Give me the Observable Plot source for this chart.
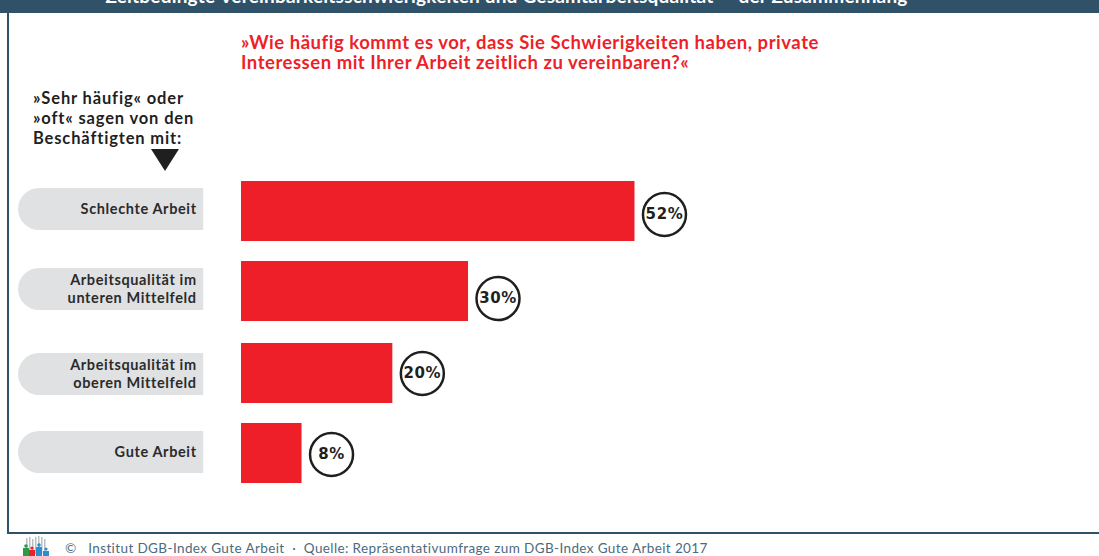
<!DOCTYPE html>
<html><head><meta charset="utf-8">
<script src="https://cdn.jsdelivr.net/npm/d3@7"></script>
<script src="https://cdn.jsdelivr.net/npm/@observablehq/plot@0.6"></script>
<style>
html,body{margin:0;padding:0;background:#fff;overflow:hidden}
#wrap{position:relative;width:1099px;height:556px;overflow:hidden;font-family:Lato,sans-serif}
#wrap svg{position:absolute;left:0;top:0}
#wrap svg text{letter-spacing:.62px}
.abs{position:absolute;white-space:pre}
</style></head><body><div id="wrap"></div>
<script>
const categories = ["Schlechte Arbeit","Arbeitsqualität im\nunteren Mittelfeld","Arbeitsqualität im\noberen Mittelfeld","Gute Arbeit"];
const values = [52,30,20,8];
const headerText = "Zeitbedingte Vereinbarkeitsschwierigkeiten und Gesamtarbeitsqualität — der Zusammenhang";
const questionLines = ["»Wie häufig kommt es vor, dass Sie Schwierigkeiten haben, private","Interessen mit Ihrer Arbeit zeitlich zu vereinbaren?«"];
const leadLines = ["»Sehr häufig« oder","»oft« sagen von den","Beschäftigten mit:"];
const footerText = "©   Institut DGB-Index Gute Arbeit  ·  Quelle: Repräsentativumfrage zum DGB-Index Gute Arbeit 2017";

const rows = categories.map((c,i)=>({c,v:values[i]}));
const barNudge = [-2,-2,0,0], pillNudge = [-4,-4,1,-1], circleNudge = [1,5,0,1];
const font = "Lato, sans-serif";
const pxPerUnit = 7.567;
const plot = Plot.plot({
  width:1099,height:556,margin:0,
  style:{background:"transparent",fontFamily:font},
  x:{domain:[-241/pxPerUnit,(1099-241)/pxPerUnit],range:[0,1099],axis:null},
  y:{domain:categories,range:[171,493.6],paddingInner:0.256,paddingOuter:0.128,axis:null},
  marks:[
    ...rows.map((r,i)=>Plot.barX([r],{x1:()=>-29.47,x2:()=>-15,y:"c",fill:"#e0e1e3",insetTop:9,insetBottom:9,rx:21,dy:pillNudge[i]})),
    ...rows.map((r,i)=>Plot.barX([r],{x1:()=>-20,x2:()=>-5,y:"c",fill:"#e0e1e3",insetTop:9,insetBottom:9,dy:pillNudge[i]})),
    ...rows.map((r,i)=>Plot.barX([r],{x1:()=>0,x2:"v",y:"c",fill:"#ee1f28",dy:barNudge[i]})),
    ...rows.map((r,i)=>Plot.text([r],{x:()=>-5,y:"c",text:"c",textAnchor:"end",dx:-7,dy:pillNudge[i]-1.5,lineHeight:1.3,fontSize:14.5,fontWeight:700,fill:"#2b2b2b",fontFamily:font})),
    ...rows.map((r,i)=>Plot.dot([r],{x:"v",y:"c",dx:29.5,dy:circleNudge[i],r:21.5,fill:"#fff",stroke:"#1f1f1f",strokeWidth:2.5})),
    ...rows.map((r,i)=>Plot.text([r],{x:"v",y:"c",dx:29.5,dy:circleNudge[i],text:d=>d.v+"%",fontSize:15,fontWeight:700,fill:"#1f1f1f",fontFamily:"'DejaVu Sans',sans-serif"}))
  ]
});
const wrap=document.getElementById("wrap");
wrap.appendChild(plot);
function add(css,text){const d=document.createElement("div");d.className="abs";d.style.cssText=css;d.textContent=text;wrap.appendChild(d);return d;}
add("left:0;top:0;width:1099px;height:13px;background:#2f5269;","");
add("left:7px;top:0;width:2px;height:534px;background:#2f5269;","");
add("left:7px;top:532px;width:1092px;height:2px;background:#2f5269;","");
add("left:0;top:-14px;width:1013px;text-align:center;color:#fff;font-size:19px;font-weight:700;line-height:20px;height:27px;overflow:hidden;letter-spacing:.2px;",headerText);
questionLines.forEach((t,i)=>add(`left:241px;top:${32+i*20}px;color:#ee1f28;font-size:18.5px;font-weight:700;line-height:20px;letter-spacing:.52px;`,t));
leadLines.forEach((t,i)=>add(`left:33px;top:${88+i*19.8}px;color:#1f1f1f;font-size:16.5px;font-weight:700;line-height:20px;letter-spacing:.85px;`,t));
add("left:65px;top:540px;color:#4d6a7e;font-size:13.5px;line-height:16px;letter-spacing:.39px;",footerText);
const ns="http://www.w3.org/2000/svg";
const deco=document.createElementNS(ns,"svg");deco.setAttribute("width",1099);deco.setAttribute("height",556);
deco.innerHTML=`<path d="M151 149H179L165 171Z" fill="#1f1f1f"/>
<g fill="#b8c0c6"><rect x="26" y="538" width="1.5" height="16"/><rect x="29" y="537" width="1.5" height="17"/><rect x="32" y="539" width="1.5" height="15"/><rect x="35" y="537" width="1.5" height="17"/><rect x="38" y="536" width="1.5" height="18"/><rect x="41" y="537" width="1.5" height="17"/><rect x="44" y="539" width="1.5" height="15"/></g>
<rect x="23" y="548" width="6" height="8" fill="#2f9a46"/><circle cx="26" cy="546" r="1.8" fill="#2f9a46"/>
<rect x="29" y="550" width="6" height="6" fill="#ee1f28"/><circle cx="32" cy="548" r="1.6" fill="#ee1f28"/>
<rect x="36" y="547" width="6" height="9" fill="#2a8fd0"/><circle cx="39" cy="545" r="1.8" fill="#2a8fd0"/>
<rect x="43" y="551" width="6" height="5" fill="#2a8fd0"/><circle cx="46" cy="549" r="1.6" fill="#2a8fd0"/>`;
wrap.appendChild(deco);
</script></body></html>
